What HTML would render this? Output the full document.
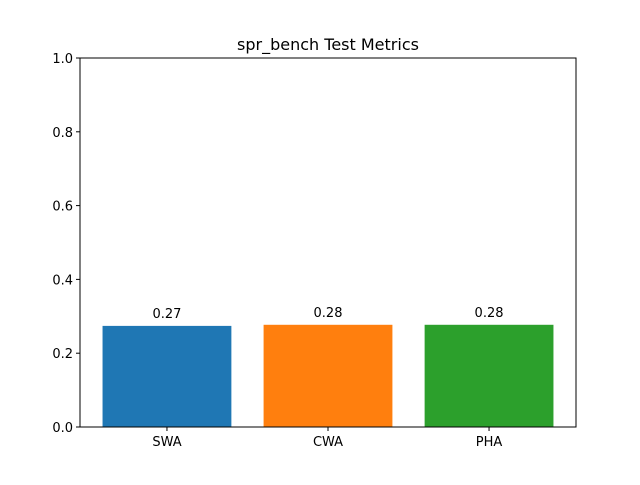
<!DOCTYPE html>
<html><head><meta charset="utf-8"><style>
body{margin:0;background:#fff;font-family:"Liberation Sans","DejaVu Sans",sans-serif;}
svg text{font-family:"DejaVu Sans","Liberation Sans",sans-serif;}
</style></head><body>
<svg id="chart" width="640" height="480" xmlns="http://www.w3.org/2000/svg">
<rect width="640" height="480" fill="#fff"/>
<text x="328" y="50" font-size="16" text-anchor="middle">spr_bench Test Metrics</text>
<g id="marks"></g>
<rect x="80" y="58" width="496" height="369" fill="none" stroke="#000" stroke-width="1"/>
</svg>
<script>
const categories = ["SWA", "CWA", "PHA"];
const values = [0.274, 0.277, 0.277];
const valueLabels = ["0.27", "0.28", "0.28"];
const yTicks = [0, 0.2, 0.4, 0.6, 0.8, 1.0];
const yTickLabels = ["0.0", "0.2", "0.4", "0.6", "0.8", "1.0"];
const colors = ["#1f77b4", "#ff7f0e", "#2ca02c"];

const L=80,R=576,T=58,B=427;
const xmin=-0.54,xmax=categories.length-1+0.54;
const xs=v=>L+(v-xmin)/(xmax-xmin)*(R-L);
const ys=v=>B-v*(B-T);
const g=document.getElementById('marks');
const NS="http://www.w3.org/2000/svg";
function mk(t,a){const e=document.createElementNS(NS,t);for(const k in a)e.setAttribute(k,a[k]);return e;}
const bw=0.8*(R-L)/(xmax-xmin);
categories.forEach((c,i)=>{
  const r=mk('rect',{x:xs(i)-bw/2,y:ys(values[i]),width:bw,height:B-ys(values[i]),fill:colors[i]});
  
  
  g.appendChild(r);
  const t=mk('text',{x:xs(i),y:ys(values[i])-8,'font-size':13,'text-anchor':'middle'});
  t.textContent=valueLabels[i];
  
  
  g.appendChild(t);
  const tk=mk('line',{x1:xs(i),x2:xs(i),y1:B,y2:B+4,stroke:'#000'});
  
  
  g.appendChild(tk);
  const xl=mk('text',{x:xs(i),y:B+19,'font-size':13,'text-anchor':'middle'});
  xl.textContent=c;
  
  
  g.appendChild(xl);
});
yTicks.forEach((v,i)=>{
  const tk=mk('line',{x1:L-4,x2:L,y1:ys(v),y2:ys(v),stroke:'#000'});
  
  
  g.appendChild(tk);
  const yl=mk('text',{x:L-7,y:ys(v)+5,'font-size':13,'text-anchor':'end'});
  yl.textContent=yTickLabels[i];
  
  
  g.appendChild(yl);
});
</script>
</body></html>
